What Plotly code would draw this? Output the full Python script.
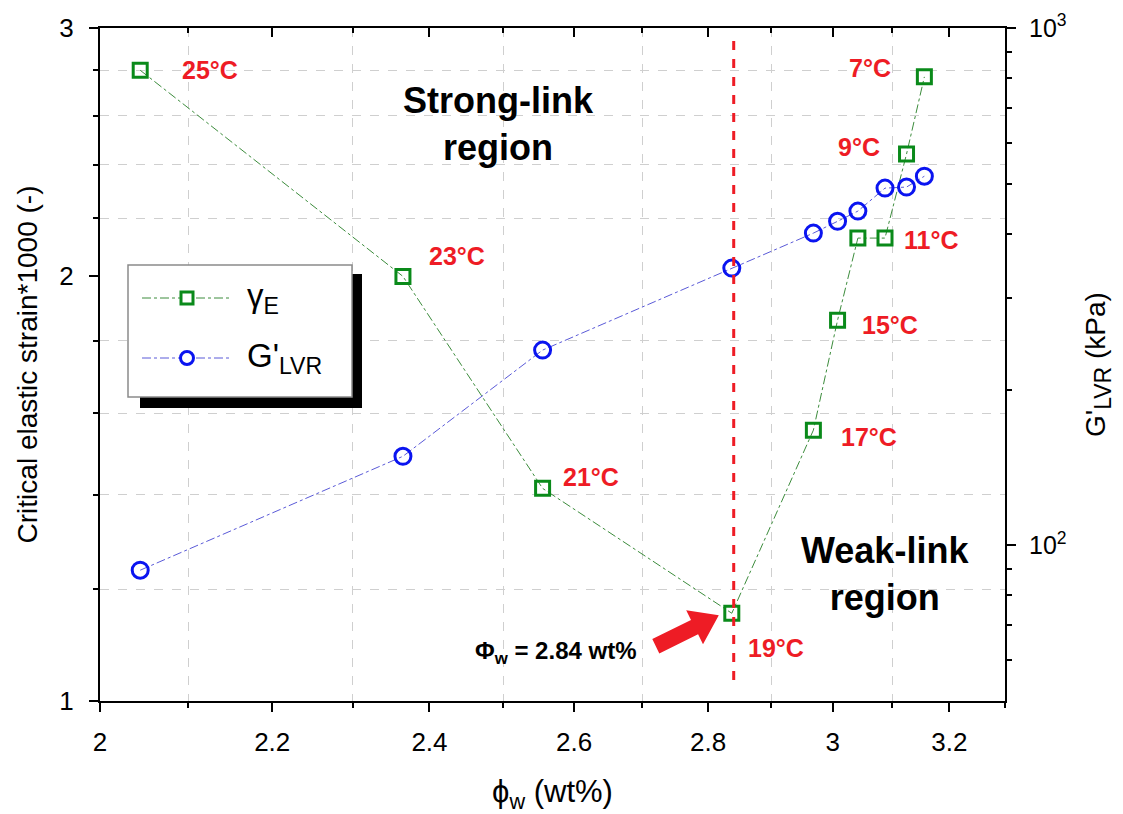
import math
import plotly.graph_objects as go

# Water content (wt%) of each sample, shared by both series
phi_w = [2.045, 2.365, 2.555, 2.837, 2.968, 3.008, 3.042, 3.088, 3.125, 3.156]
# Critical elastic strain * 1000 (-)
gamma_e = [2.80, 2.00, 1.415, 1.154, 1.556, 1.862, 2.129, 2.129, 2.442, 2.770]
# Linear viscoelastic storage modulus (kPa)
g_lvr = [89.5, 148.6, 238.4, 343.4, 401.3, 423.0, 442.6, 490.3, 492.6, 517.0]
# Test temperature of each sample (degC); the 13 degC point carries no label
temperatures = [25, 23, 21, 19, 17, 15, 13, 11, 9, 7]
labelled = [True, True, True, True, True, True, False, True, True, True]
PHI_W_TRANSITION = 2.84

x_major = [2.0, 2.2, 2.4, 2.6, 2.8, 3.0, 3.2]
x_minor = [2.1, 2.3, 2.5, 2.7, 2.9, 3.1, 3.3]
y_major = [1, 2, 3]
y_minor = [1.2, 1.4, 1.6, 1.8, 2.2, 2.4, 2.6, 2.8]
y2_major = [100, 1000]
y2_ticktext = ["10<sup>2</sup>", "10<sup>3</sup>"]
y2_minor = [60, 70, 80, 90, 200, 300, 400, 500, 600, 700, 800, 900]

FONT = "Arial, Liberation Sans, sans-serif"
GREEN = "#0a8a1a"
GREEN_LINE = "#3c8c3c"
BLUE = "#0a14f0"
BLUE_LINE = "#5a5ad8"
RED = "#ee1c25"

W, H = 1123, 814
M_L, M_R, M_T, M_B = 100, 118, 28, 113
PW, PH = W - M_L - M_R, H - M_T - M_B


def px(x):
    return (x - M_L) / PW


def py(y):
    return (H - M_B - y) / PH


fig = go.Figure()

fig.add_trace(go.Scatter(
    x=phi_w, y=gamma_e, name="γ<sub>E</sub>", mode="lines+markers",
    line=dict(color=GREEN_LINE, width=1, dash="dashdot"),
    marker=dict(symbol="square-open", size=14, color=GREEN, line=dict(width=3, color=GREEN)),
    xaxis="x", yaxis="y", showlegend=False,
))
fig.add_trace(go.Scatter(
    x=phi_w, y=g_lvr, name="G'<sub>LVR</sub>", mode="lines+markers",
    line=dict(color=BLUE_LINE, width=1, dash="dashdot"),
    marker=dict(symbol="circle-open", size=16, color=BLUE, line=dict(width=3, color=BLUE)),
    xaxis="x", yaxis="y2", showlegend=False,
))
# carrier for the inward ticks along the top frame
fig.add_trace(go.Scatter(x=[], y=[], xaxis="x2", yaxis="y", showlegend=False, hoverinfo="skip"))

x_range = [math.log10(2.0), math.log10(3.3)]
axis_common = dict(showline=True, linecolor="black", linewidth=2, tickcolor="black",
                   tickwidth=2, zeroline=False, automargin=False)
tick_font = dict(family=FONT, size=26, color="black")
minor_grid = dict(showgrid=True, gridcolor="#cfcfcf", griddash="dash", gridwidth=1)

fig.update_layout(
    width=W, height=H,
    margin=dict(l=M_L, r=M_R, t=M_T, b=M_B),
    paper_bgcolor="white", plot_bgcolor="white",
    font=dict(family=FONT, color="black"),
    xaxis=dict(
        type="log", range=x_range, tickmode="array", tickvals=x_major,
        ticktext=[f"{v:g}" for v in x_major], ticks="outside", ticklen=9,
        showgrid=False, mirror=True, tickfont=tick_font, ticklabelstandoff=8,
        minor=dict(tickmode="array", tickvals=x_minor, ticks="outside", ticklen=5,
                   tickwidth=2, tickcolor="black", **minor_grid),
        title=dict(text="ϕ<sub>w</sub> (wt%)", font=dict(family=FONT, size=31), standoff=28),
        **axis_common,
    ),
    xaxis2=dict(
        type="log", range=x_range, overlaying="x", side="top", anchor="y",
        tickmode="array", tickvals=x_major, ticks="inside", ticklen=9,
        showticklabels=False, showgrid=False, showline=False,
        minor=dict(tickmode="array", tickvals=x_minor, ticks="inside", ticklen=5,
                   tickwidth=2, tickcolor="black", showgrid=False),
        tickcolor="black", tickwidth=2, zeroline=False, automargin=False,
    ),
    yaxis=dict(
        type="log", range=[0, math.log10(3)], tickmode="array", tickvals=y_major,
        ticktext=[str(v) for v in y_major], ticks="outside", ticklen=9, showgrid=False,
        tickfont=tick_font, ticklabelstandoff=10,
        minor=dict(tickmode="array", tickvals=y_minor, ticks="outside", ticklen=5,
                   tickwidth=2, tickcolor="black", **minor_grid),
        title=dict(text="Critical elastic strain*1000 (-)", font=dict(family=FONT, size=28),
                   standoff=14),
        **axis_common,
    ),
    yaxis2=dict(
        type="log", range=[math.log10(50), 3], overlaying="y", side="right", anchor="x",
        tickmode="array", tickvals=y2_major, ticktext=y2_ticktext, ticks="outside",
        ticklen=9, showgrid=False, tickfont=dict(family=FONT, size=25, color="black"),
        ticklabelstandoff=8,
        minor=dict(tickmode="array", tickvals=y2_minor, ticks="outside", ticklen=5,
                   tickwidth=2, tickcolor="black", showgrid=False),
        title=dict(text="G'<sub><span style='font-size:23px'>LVR</span></sub> (kPa)",
                   font=dict(family=FONT, size=28), standoff=20),
        **axis_common,
    ),
)

shapes = []
# transition water content
shapes.append(dict(type="line", xref="x", yref="paper", x0=PHI_W_TRANSITION, x1=PHI_W_TRANSITION,
                   y0=py(680), y1=py(40), line=dict(color=RED, width=3, dash="dash")))

# legend panel with drop shadow
shapes.append(dict(type="rect", xref="paper", yref="paper", x0=px(140), x1=px(362),
                   y0=py(408), y1=py(274), fillcolor="black", line=dict(width=0), layer="above"))
shapes.append(dict(type="rect", xref="paper", yref="paper", x0=px(128), x1=px(352),
                   y0=py(397), y1=py(265), fillcolor="white",
                   line=dict(color="#8a8a8a", width=1.5), layer="above"))
legend_rows = [
    (298, GREEN_LINE, GREEN, "square", "γ<sub>E</sub>"),
    (358, BLUE_LINE, BLUE, "circle", "G'<sub>LVR</sub>"),
]
for ly, lcol, mcol, kind, txt in legend_rows:
    shapes.append(dict(type="line", xref="paper", yref="paper", x0=px(142), x1=px(232),
                       y0=py(ly), y1=py(ly), line=dict(color=lcol, width=1, dash="dashdot"),
                       layer="above"))
    half = 6 if kind == "square" else 6.5
    shapes.append(dict(type="rect" if kind == "square" else "circle",
                       xref="paper", yref="paper", xsizemode="pixel", ysizemode="pixel",
                       xanchor=px(187), yanchor=py(ly), x0=-half, x1=half, y0=-half, y1=half,
                       fillcolor="white", line=dict(color=mcol, width=3), layer="above"))

# block arrow pointing at the transition point (pixel geometry relative to that point)
i19 = temperatures.index(19)
tip = (-13.0, -2.0)
tail = (-76.0, -33.0)
shaft_half, head_half, head_len = 8.0, 19.0, 27.0
ux, uy = tip[0] - tail[0], tip[1] - tail[1]
norm = math.hypot(ux, uy)
ux, uy = ux / norm, uy / norm
nx, ny = -uy, ux
bx, by = tip[0] - ux * head_len, tip[1] - uy * head_len
pts = [
    (tail[0] + nx * shaft_half, tail[1] + ny * shaft_half),
    (bx + nx * shaft_half, by + ny * shaft_half),
    (bx + nx * head_half, by + ny * head_half),
    tip,
    (bx - nx * head_half, by - ny * head_half),
    (bx - nx * shaft_half, by - ny * shaft_half),
    (tail[0] - nx * shaft_half, tail[1] - ny * shaft_half),
]
arrow_path = "M " + " L ".join(f"{a:.1f},{b:.1f}" for a, b in pts) + " Z"
shapes.append(dict(type="path", xref="x", yref="y", xsizemode="pixel", ysizemode="pixel",
                   xanchor=phi_w[i19], yanchor=gamma_e[i19], path=arrow_path,
                   fillcolor=RED, line=dict(width=0), layer="above"))
fig.update_layout(shapes=shapes)

annotations = []
for (ly, _, _, _, txt) in legend_rows:
    annotations.append(dict(xref="paper", yref="paper", x=px(245), y=py(ly), text=txt,
                            showarrow=False, xanchor="left", yanchor="middle",
                            font=dict(family=FONT, size=33, color="black")))

# temperature labels, offset in pixels from their point
label_offsets = {25: (70, 0), 23: (54, 20), 21: (48, 11), 19: (44, -35), 17: (56, -7),
                 15: (52, -5), 11: (46, -2), 9: (-48, 7), 7: (-54, 9)}
for xv, yv, t, show in zip(phi_w, gamma_e, temperatures, labelled):
    if not show:
        continue
    dx, dy = label_offsets[t]
    annotations.append(dict(x=math.log10(xv), y=math.log10(yv), xref="x", yref="y",
                            text=f"<b>{t}°C</b>", showarrow=False, xshift=dx, yshift=dy,
                            xanchor="center", yanchor="middle",
                            font=dict(family=FONT, size=25, color=RED)))

annotations.append(dict(xref="paper", yref="paper", x=px(498), y=py(124),
                        text="<b>Strong-link<br>region</b>", showarrow=False,
                        xanchor="center", yanchor="middle",
                        font=dict(family=FONT, size=36, color="black")))
annotations.append(dict(xref="paper", yref="paper", x=px(885), y=py(574),
                        text="<b>Weak-link<br>region</b>", showarrow=False,
                        xanchor="center", yanchor="middle",
                        font=dict(family=FONT, size=36, color="black")))
annotations.append(dict(xref="paper", yref="paper", x=px(556), y=py(652),
                        text=f"<b>Φ<sub>w</sub> = {PHI_W_TRANSITION} wt%</b>", showarrow=False,
                        xanchor="center", yanchor="middle",
                        font=dict(family=FONT, size=24, color="black")))
fig.update_layout(annotations=annotations)

fig.write_html("out.html")
